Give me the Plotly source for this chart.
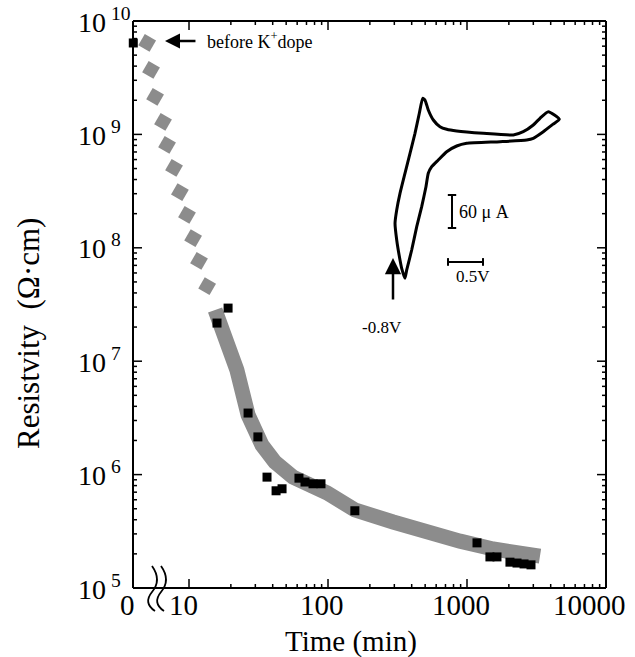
import math
import plotly.graph_objects as go

# ---------------- data ----------------
VIS_X = [0.597, 4.0]            # log10(min) shown inside the frame
VIS_Y = [5, 10]                 # log10(ohm cm) shown inside the frame
# time 0 ("before K+ dope") is drawn at the broken left edge of the log axis
ZERO_POS = 10 ** (VIS_X[0] + 0.002)

marker_time = [0, 15.9, 19.1, 26.6, 31.3, 36.4, 42.3, 46.7, 61.8, 68.3, 78, 89, 156,
               1180, 1462, 1643, 2037, 2290, 2573, 2887]
marker_res = [6.4e9, 2.17e7, 2.94e7, 3.49e6, 2.15e6, 9.5e5, 7.2e5, 7.5e5, 9.3e5, 8.6e5,
              8.3e5, 8.3e5, 4.8e5, 2.5e5, 1.88e5, 1.88e5, 1.69e5, 1.66e5, 1.63e5, 1.60e5]

# extrapolated (broken) part of the guide band
band_dash_time = [5.0, 5.33, 5.7, 6.5, 6.95, 7.8, 8.6, 9.67, 10.7, 11.8, 13.5]
band_dash_res = [6.4e9, 3.7e9, 2.14e9, 1.29e9, 8.07e8, 5.06e8, 3.1e8, 1.95e8, 1.22e8, 7.66e7, 4.6e7]

# continuous part of the guide band
band_time = [15.4, 18.8, 22.1, 26.6, 33.5, 41.5, 56.0, 98.4, 156, 294, 515, 891, 1540, 3350]
band_res = [2.83e7, 1.54e7, 8.36e6, 3.36e6, 1.82e6, 1.29e6, 9.5e5, 6.9e5, 4.88e5, 3.82e5,
            3.05e5, 2.59e5, 2.21e5, 1.91e5]

x_tick_vals = [10, 100, 1000, 10000]
x_tick_text = ["0", "10", "100", "1000", "10000"]
y_tick_exp = [5, 6, 7, 8, 9, 10]

# inset: cyclic voltammogram (potential in V, current in uA)
cv_potential = [-0.376, -0.343, -0.296, -0.224, -0.129, -0.033, 0.110, 0.490, 0.919, 1.061,
                1.204, 1.300, 1.419, 1.576, 1.490, 1.347, 1.204, 1.110, 0.729, 0.253,
                0.110, -0.033, -0.153, -0.247, -0.296, -0.329, -0.390, -0.461, -0.533, -0.604,
                -0.629, -0.676, -0.700, -0.747, -0.771, -0.747, -0.700, -0.629, -0.557, -0.486,
                -0.424, -0.376]
cv_current = [148.5, 145.4, 127.3, 109.1, 96.9, 92.2, 89.1, 84.9, 81.8, 87.8,
              100.0, 112.2, 124.2, 110.4, 101.8, 87.8, 75.8, 72.7, 69.6, 66.7,
              61.8, 51.4, 36.4, 24.2, 12.2, -12.2, -48.5, -84.9, -127.3, -163.6,
              -178.7, -160.5, -145.4, -109.1, -78.7, -54.5, -24.2, 12.2, 48.5, 84.9,
              121.3, 148.5]
scale_current_uA = 60
scale_potential_V = 0.5
start_potential_V = -0.8

# ---------------- layout geometry ----------------
SERIF = "Liberation Serif"
BAND = "#8c8c8c"
W, H = 635, 657
FL, FR, FT, FB = 133, 606, 21, 588          # drawn frame (pixels)
ML, MR, MT, MB = 60, 20, 12, 29             # plotly plotting area (a bit larger)
PW, PH = W - ML - MR, H - MT - MB
PX_PER_DEC_X = (FR - FL) / (VIS_X[1] - VIS_X[0])
PX_PER_DEC_Y = (FB - FT) / (VIS_Y[1] - VIS_Y[0])
X_RANGE = [VIS_X[0] - (FL - ML) / PX_PER_DEC_X, VIS_X[1] + (W - MR - FR) / PX_PER_DEC_X]
Y_RANGE = [VIS_Y[0] - (H - MB - FB) / PX_PER_DEC_Y, VIS_Y[1] + (FT - MT) / PX_PER_DEC_Y]

INSET_PX_V0, INSET_PX_PER_V = 393, 70
INSET_PY_I0, INSET_PX_PER_UA = 180, 0.55


def px2paper(px, py):
    return (px - ML) / PW, (H - MB - py) / PH


def lx2px(l):
    return ML + (l - X_RANGE[0]) / (X_RANGE[1] - X_RANGE[0]) * PW


def ly2py(l):
    return H - MB - (l - Y_RANGE[0]) / (Y_RANGE[1] - Y_RANGE[0]) * PH


def px2lx(px):
    return X_RANGE[0] + (px - ML) / PW * (X_RANGE[1] - X_RANGE[0])


def py2ly(py):
    return Y_RANGE[0] + (H - MB - py) / PH * (Y_RANGE[1] - Y_RANGE[0])


def inset_log(v, i):
    px = INSET_PX_V0 + (v - start_potential_V) * INSET_PX_PER_V
    py = INSET_PY_I0 - i * INSET_PX_PER_UA
    return px2lx(px), py2ly(py)


def inset_xy(vs, cs):
    xs, ys = [], []
    for v, c in zip(vs, cs):
        if v is None:
            xs.append(None); ys.append(None); continue
        lx, ly = inset_log(v, c)
        xs.append(10 ** lx); ys.append(10 ** ly)
    return xs, ys


fig = go.Figure()

fig.add_trace(go.Scatter(x=band_time, y=band_res, mode="lines",
                         line=dict(color=BAND, width=15), hoverinfo="skip"))
fig.add_trace(go.Scatter(x=band_dash_time, y=band_dash_res, mode="markers",
                         marker=dict(symbol="square", size=13, angle=30, color=BAND,
                                     line=dict(width=0)), hoverinfo="skip"))
mx = [ZERO_POS if t == 0 else t for t in marker_time]
fig.add_trace(go.Scatter(x=mx, y=marker_res, mode="markers",
                         marker=dict(symbol="square", size=9, color="black",
                                     line=dict(color="black", width=0)),
                         cliponaxis=False))

# inset CV curve
cx, cy = inset_xy(cv_potential, cv_current)
fig.add_trace(go.Scatter(x=cx, y=cy, mode="lines",
                         line=dict(color="black", width=3, shape="spline", smoothing=0.5),
                         hoverinfo="skip"))
vb_x, vb_y0 = 0.043, -27.3
hb_x0, hb_y = -0.014, -149
cap_v, cap_i = 0.06, 7
sx, sy = inset_xy(
    [vb_x, vb_x, None, vb_x - cap_v, vb_x + cap_v, None, vb_x - cap_v, vb_x + cap_v],
    [vb_y0, vb_y0 - scale_current_uA, None, vb_y0, vb_y0, None,
     vb_y0 - scale_current_uA, vb_y0 - scale_current_uA])
fig.add_trace(go.Scatter(x=sx, y=sy, mode="lines", line=dict(color="black", width=2),
                         hoverinfo="skip"))
sx, sy = inset_xy(
    [hb_x0, hb_x0 + scale_potential_V, None, hb_x0, hb_x0, None,
     hb_x0 + scale_potential_V, hb_x0 + scale_potential_V],
    [hb_y, hb_y, None, hb_y - cap_i, hb_y + cap_i, None, hb_y - cap_i, hb_y + cap_i])
fig.add_trace(go.Scatter(x=sx, y=sy, mode="lines", line=dict(color="black", width=2),
                         hoverinfo="skip"))

# ---------------- frame and ticks as line traces (decoration) ----------------
MAJ, MIN = 9, 4
minor_x = [k * 10 ** n for n in (1, 2, 3) for k in range(2, 10)]
minor_y = [k * 10 ** n for n in (5, 6, 7, 8, 9) for k in range(2, 10)]

tx_, ty_ = [], []


def seg(p0, p1):
    tx_.extend([10 ** px2lx(p0[0]), 10 ** px2lx(p1[0]), None])
    ty_.extend([10 ** py2ly(p0[1]), 10 ** py2ly(p1[1]), None])


for vals, ln in ((x_tick_vals[:-1], MAJ), (minor_x, MIN)):
    for v in vals:
        px = lx2px(math.log10(v))
        seg((px, FB), (px, FB - ln))
        seg((px, FT), (px, FT + ln))
for vals, ln in (([10 ** e for e in y_tick_exp[1:-1]], MAJ), (minor_y, MIN)):
    for v in vals:
        py = ly2py(math.log10(v))
        seg((FL, py), (FL + ln, py))
        seg((FR, py), (FR - ln, py))
fig.add_trace(go.Scatter(x=tx_, y=ty_, mode="lines", line=dict(color="black", width=1.5),
                         cliponaxis=False, hoverinfo="skip"))
tx_, ty_ = [], []
seg((FL, FT), (FR, FT)); seg((FR, FT), (FR, FB)); seg((FR, FB), (FL, FB)); seg((FL, FB), (FL, FT))
fig.add_trace(go.Scatter(x=tx_, y=ty_, mode="lines", line=dict(color="black", width=2),
                         cliponaxis=False, hoverinfo="skip"))

axis_common = dict(showline=False, ticks="", showgrid=False, zeroline=False,
                   showticklabels=False, automargin=False, fixedrange=True)

fig.update_layout(
    width=W, height=H, margin=dict(l=ML, r=MR, t=MT, b=MB, autoexpand=False),
    plot_bgcolor="white", paper_bgcolor="white", showlegend=False,
    font=dict(family=SERIF, color="black"), dragmode=False,
    xaxis=dict(type="log", range=X_RANGE, **axis_common),
    yaxis=dict(type="log", range=Y_RANGE, **axis_common),
)

annotations = []
x_label_pos = [VIS_X[0]] + [math.log10(v) for v in x_tick_vals]
for i, (l, txt) in enumerate(zip(x_label_pos, x_tick_text)):
    last = i == len(x_tick_text) - 1
    px = W - 7 if last else lx2px(l) - 6
    ax_, ay_ = px2paper(px, 605)
    annotations.append(dict(text=txt, x=ax_, y=ay_, xref="paper", yref="paper",
                            xanchor="right" if last else "center", yanchor="middle",
                            showarrow=False, font=dict(size=29, family=SERIF)))
for e in y_tick_exp:
    ax_, ay_ = px2paper(76, ly2py(e) - 1)
    annotations.append(dict(text=f"10<sup> {e}</sup>", x=ax_, y=ay_, xref="paper", yref="paper",
                            xanchor="left", yanchor="middle", showarrow=False,
                            font=dict(size=28, family=SERIF)))
tx, ty = px2paper(351, 641)
annotations.append(dict(text="Time (min)", x=tx, y=ty, xref="paper", yref="paper",
                        xanchor="center", yanchor="middle",
                        showarrow=False, font=dict(size=29, family=SERIF)))
yx, yy = px2paper(28, 334)
annotations.append(dict(text="Resistvity\u00a0\u00a0(Ω·cm)", x=yx, y=yy, xref="paper", yref="paper",
                        xanchor="center", yanchor="middle",
                        textangle=-90, showarrow=False, font=dict(size=31, family=SERIF)))
annotations.append(dict(text="", x=0.827, y=9.824, xref="x", yref="y",
                        ax=32, ay=0, showarrow=True, arrowhead=2, arrowsize=1.2,
                        arrowwidth=2.5, arrowcolor="black"))
annotations.append(dict(text="before K<sup>+</sup>dope", x=1.115, y=9.824, xref="x", yref="y",
                        xanchor="left", yanchor="middle", showarrow=False,
                        font=dict(size=18, family=SERIF)))
lx, ly = inset_log(0.11, vb_y0 - scale_current_uA / 2)
annotations.append(dict(text=f"{scale_current_uA} μ A", x=lx, y=ly, xref="x", yref="y",
                        xanchor="left", showarrow=False, font=dict(size=18, family=SERIF)))
lx, ly = inset_log(hb_x0 + scale_potential_V / 2 + 0.1, -176)
annotations.append(dict(text=f"{scale_potential_V}V", x=lx, y=ly, xref="x", yref="y",
                        showarrow=False, font=dict(size=17, family=SERIF)))
hx, hy = inset_log(start_potential_V, -142)
tx2, ty2 = inset_log(start_potential_V, -220)
annotations.append(dict(text="", x=hx, y=hy, xref="x", yref="y",
                        ax=tx2, ay=ty2, axref="x", ayref="y",
                        showarrow=True, arrowhead=2, arrowsize=1.3, arrowwidth=2.5,
                        arrowcolor="black"))
lx, ly = inset_log(-0.957, -269)
annotations.append(dict(text=f"{start_potential_V}V", x=lx, y=ly, xref="x", yref="y",
                        showarrow=False, font=dict(size=17, family=SERIF)))
fig.update_layout(annotations=annotations)


def path_from_px(pts):
    p = [px2paper(*q) for q in pts]
    return (f"M {p[0][0]},{p[0][1]} Q {p[1][0]},{p[1][1]} {p[2][0]},{p[2][1]} "
            f"Q {p[3][0]},{p[3][1]} {p[4][0]},{p[4][1]}")


shapes = []
for dx in (0, 9):
    pts = [(152 + dx, 566), (162 + dx, 580), (152 + dx, 592), (143 + dx, 603), (155 + dx, 611)]
    shapes.append(dict(type="path", path=path_from_px(pts), xref="paper", yref="paper",
                       line=dict(color="black", width=1.8)))
fig.update_layout(shapes=shapes)

fig.write_html("out.html", config={"staticPlot": True, "displayModeBar": False})
